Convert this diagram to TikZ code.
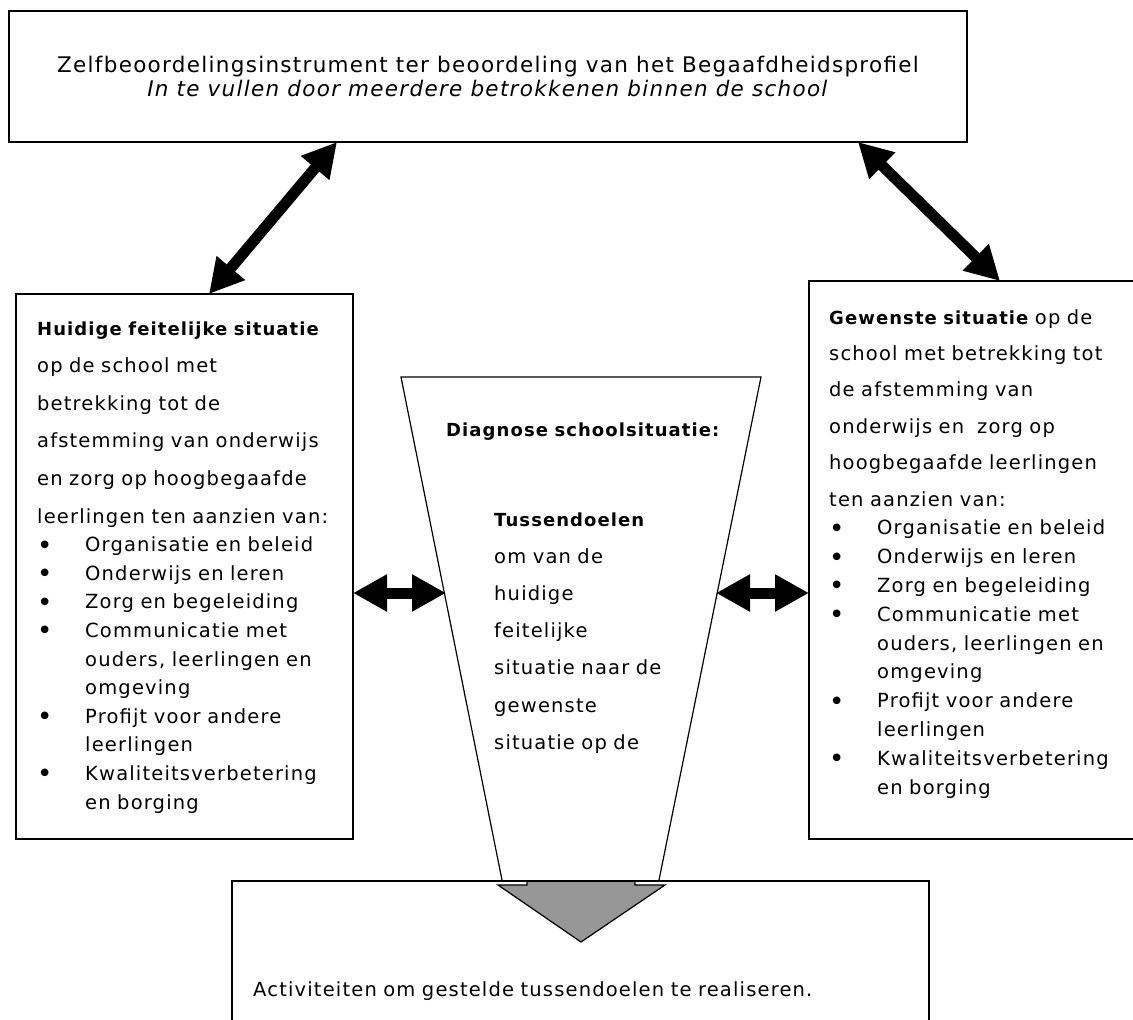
\documentclass[tikz,border=0pt]{standalone}
\usepackage{fontspec}
\setmainfont{DejaVu Sans}[LetterSpace=6]
\usetikzlibrary{arrows.meta}
\definecolor{pijlgrijs}{RGB}{150,150,150}
\newcommand{\punt}[1]{\par\hangindent=48pt\hangafter=1\noindent\makebox[48pt][l]{\raisebox{-2.5pt}{\fontsize{26}{0}\selectfont\textbullet}}#1}
\newcommand{\vet}[1]{{\fontsize{18}{0}\selectfont\bfseries #1}}
\tikzset{
	kader/.style = {draw, line width = 1.8pt, inner sep = 0pt, outer sep = 0pt, anchor = north west},
	tekst/.style = {inner sep = 0pt, anchor = base west, align = left, text width = #1},
	dubbelpijl/.style = {line width = 11pt, {Triangle[length = 34pt, width = 35pt]}-{Triangle[length = 34pt, width = 35pt]}},
}
\begin{document}
\begin{tikzpicture}[x = 1pt, y = -1pt]
		\clip (0, 0) rectangle (1133, 1020);
		%%%%%%%%%%%%%
		\coordinate (tl) at (401, 377);
		\coordinate (tr) at (761, 377);
		\coordinate (br) at (659, 880);
		\coordinate (bl) at (502, 880);
		\draw [line width = 1.2pt] (bl) -- (tl) -- (tr) -- (br);
		\filldraw [fill = pijlgrijs, line width = 1.2pt] (527, 881) -- (527, 885) -- (498, 885) -- (581, 942) -- (665, 885) -- (635, 885) -- (635, 881);
		%%%%%%%%%%%%%
		\node [kader, minimum width = 958pt, minimum height = 131pt, align = center, font = \fontsize{21.5}{24}\selectfont] (zelfbeoordeling) at (9, 11) {Zelfbeoordelingsinstrument ter beoordeling van het Begaafdheidsprofiel\\ \textit{In te vullen door meerdere betrokkenen binnen de school}};
		\node [kader, minimum width = 337pt, minimum height = 545pt] (huidig) at (16, 294) {};
		\node [kader, minimum width = 340pt, minimum height = 558pt] (gewenst) at (809, 281) {};
		\node [kader, minimum width = 697pt, minimum height = 170pt] (activiteiten) at (232, 881) {};
		%%%%%%%%%%%%%
		\node [tekst = 312pt, font = \fontsize{19.5}{37.6}\selectfont] (huidigtxt) at (37, 335) {\vet{Huidige feitelijke situatie}\\ op de school met\\ betrekking tot de\\ afstemming van onderwijs\\ en zorg op hoogbegaafde\\ leerlingen ten aanzien van:\par
			\fontsize{19.5}{28.6}\selectfont
			\punt{Organisatie en beleid}
			\punt{Onderwijs en leren}
			\punt{Zorg en begeleiding}
			\punt{Communicatie met\newline ouders, leerlingen en\newline omgeving}
			\punt{Profijt voor andere\newline leerlingen}
			\punt{Kwaliteitsverbetering\newline en borging}\par};
		\node [tekst = 300pt, font = \fontsize{19.5}{36.4}\selectfont] (gewensttxt) at (829, 324) {\vet{Gewenste situatie} op de\\ school met betrekking tot\\ de afstemming van\\ onderwijs en \ zorg op\\ hoogbegaafde leerlingen\\ ten aanzien van:\par
			\fontsize{19.5}{28.8}\selectfont
			\punt{Organisatie en beleid}
			\punt{Onderwijs en leren}
			\punt{Zorg en begeleiding}
			\punt{Communicatie met\newline ouders, leerlingen en\newline omgeving}
			\punt{Profijt voor andere\newline leerlingen}
			\punt{Kwaliteitsverbetering\newline en borging}\par};
		\node [tekst = 300pt, font = \fontsize{19.5}{24}\selectfont] (diagnose) at (446, 436) {\vet{Diagnose schoolsituatie:}};
		\node [tekst = 220pt, font = \fontsize{19.5}{37.2}\selectfont] (tussendoelen) at (494, 526) {\vet{Tussendoelen}\\ om van de\\ huidige\\ feitelijke\\ situatie naar de\\ gewenste\\ situatie op de};
		\node [tekst = 660pt, font = \fontsize{19.5}{24}\selectfont] (activiteitentxt) at (253, 996) {Activiteiten om gestelde tussendoelen te realiseren.};
		%%%%%%%%%%%%%
		\coordinate (linksmidden) at (446, 593);
		\coordinate (rechtsmidden) at (716, 593);
		\draw [dubbelpijl] ([xshift = 328pt]zelfbeoordeling.south west) -- ([xshift = 193pt]huidig.north west);
		\draw [dubbelpijl] ([xshift = 849pt]zelfbeoordeling.south west) -- ([xshift = 191pt]gewenst.north west);
		\draw [dubbelpijl] ([yshift = -26.5pt]huidig.east) -- (linksmidden);
		\draw [dubbelpijl] (rechtsmidden) -- ([yshift = -33pt]gewenst.west);
		%%%%%%%%%%%%%%
\end{tikzpicture}
\end{document}
